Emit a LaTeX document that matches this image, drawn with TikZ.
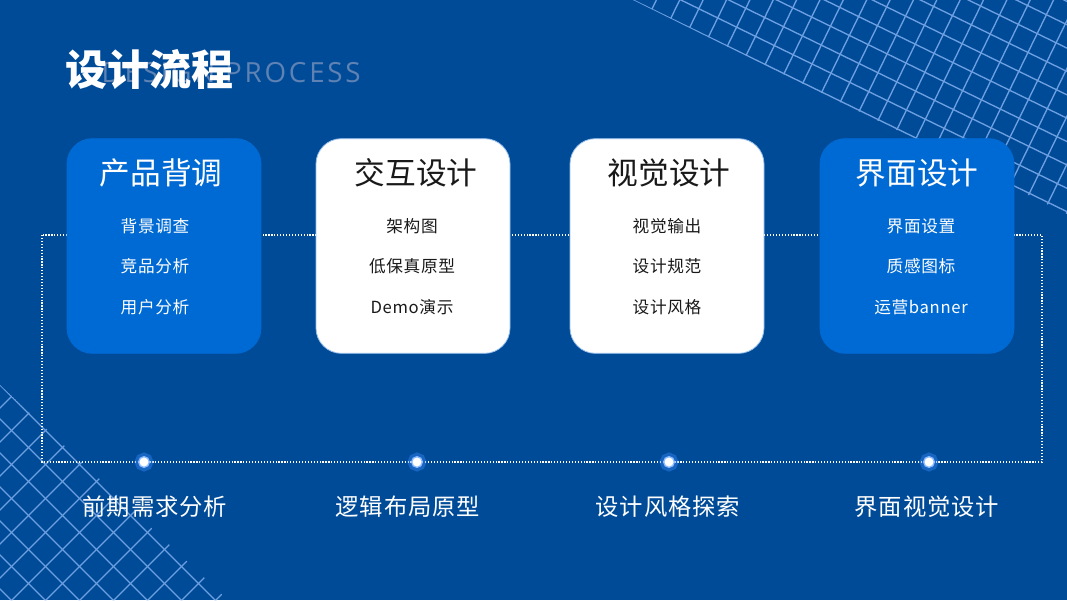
\documentclass[tikz,border=0pt]{standalone}
\usepackage{fontspec}
\setmainfont{Noto Sans CJK SC}
\newfontfamily\itemfont[LetterSpace=4]{Noto Sans CJK SC}
\newfontfamily\engfont[LetterSpace=10]{Open Sans}
\usetikzlibrary{positioning}
\definecolor{bgblue}   {RGB}{  0, 75,152}
\definecolor{cardblue} {RGB}{  0,106,212}
\definecolor{cardedge} {RGB}{150,190,235}
\definecolor{meshblue} {RGB}{110,160,225}
\definecolor{glowblue} {RGB}{ 60,140,255}
\definecolor{inkdark}  {RGB}{ 25, 25, 25}
\definecolor{ghostgray}{RGB}{ 95,130,180}
\tikzset{
  mesh/.style      = {meshblue, line width=1pt},
  frame/.style     = {white, line width=0.8pt, dash pattern=on 0.9pt off 1.3pt},
  card/.style      = {rounded corners=19pt, minimum width=145.5pt,
                      minimum height=161pt, inner sep=0pt, line width=0.6pt},
  head/.style      = {font=\fontsize{23}{25}\selectfont},
  item/.style      = {font=\itemfont\fontsize{12.5}{14}\selectfont},
  stage/.style     = {white, font=\itemfont\fontsize{17.5}{20}\selectfont},
  glowdot/.style   = {circle, fill=white, inner sep=0pt, minimum size=8pt,
                      draw=glowblue!60!white, line width=1pt,
                      preaction={draw=glowblue, line width=6pt, opacity=0.4}},
}

\begin{document}
\begin{tikzpicture}[x=0.75pt, y=-0.75pt]

  % background
  \fill[bgblue] (0,0) rectangle (1067,600);
  \useasboundingbox (0,0) rectangle (1067,600);

  % ── mesh top right ────────────────────────────────────────────────────────
  \begin{scope}
    \clip (633,0) -- (1067,0) -- (1067,214) -- cycle;
    \begin{scope}[rotate around={-26:(633,0)}]
      \foreach \k in {-40,...,40}{
        \draw[mesh] (-400, \k*21) -- (1400, \k*21);
        \draw[mesh] (633+\k*21, -800) -- (633+\k*21, 800);
      }
    \end{scope}
  \end{scope}

  % ── mesh bottom left ──────────────────────────────────────────────────────
  \begin{scope}
    \clip (0,385) -- (228,600) -- (0,600) -- cycle;
    \foreach \k in {-25,...,30}{
      \draw[mesh] (-385+\k*34, 0) -- (315+\k*34, 700);
      \draw[mesh] (\k*34, 0) -- (\k*34-700, 700);
    }
  \end{scope}

  % ── title ─────────────────────────────────────────────────────────────────
  \node[ghostgray, anchor=west, font=\engfont\fontsize{20.8}{22}\selectfont]
    (subtitle) at (97,73) {DESIGN PROCESS};
  \node[white, anchor=west, font=\bfseries\fontsize{31.5}{33}\selectfont]
    (title) at (61,70) {设计流程};

  % ── dotted frame ──────────────────────────────────────────────────────────
  \coordinate (fr-nw) at (42,235);
  \coordinate (fr-se) at (1042,462);
  \draw[frame] (fr-nw) rectangle (fr-se);

  % ── cards, dots and stage labels ──────────────────────────────────────────
  \foreach \i/\cx/\hx/\tx/\fillc/\edgec/\ink/\head/\ia/\ib/\ic/\dx/\lx/\lab in
      {1/164/161/155/cardblue/cardblue/white/产品背调/背景调查/竞品分析/用户分析/144/155/前期需求分析,
       2/413/416/412/white/cardedge/inkdark/交互设计/架构图/低保真原型/Demo演示/417/408/逻辑布局原型,
       3/667/669/667/white/cardedge/inkdark/视觉设计/视觉输出/设计规范/设计风格/669/668/设计风格探索,
       4/917/917/921/cardblue/cardblue/white/界面设计/界面设置/质感图标/运营banner/929/927/界面视觉设计}{
    \node[card, fill=\fillc, draw=\edgec] (card\i) at (\cx,246) {};
    \node[head, text=\ink] (head\i) at (\hx,173) {\head};
    \node[item, text=\ink] (itema\i) at (\tx,226) {\ia};
    \node[item, text=\ink] (itemb\i) at (\tx,266) {\ib};
    \node[item, text=\ink] (itemc\i) at (\tx,307) {\ic};
    \node[glowdot] (dot\i) at (\dx,462) {};
    \node[stage] (stage\i) at (\lx,507) {\lab};
  }

\end{tikzpicture}
\end{document}
